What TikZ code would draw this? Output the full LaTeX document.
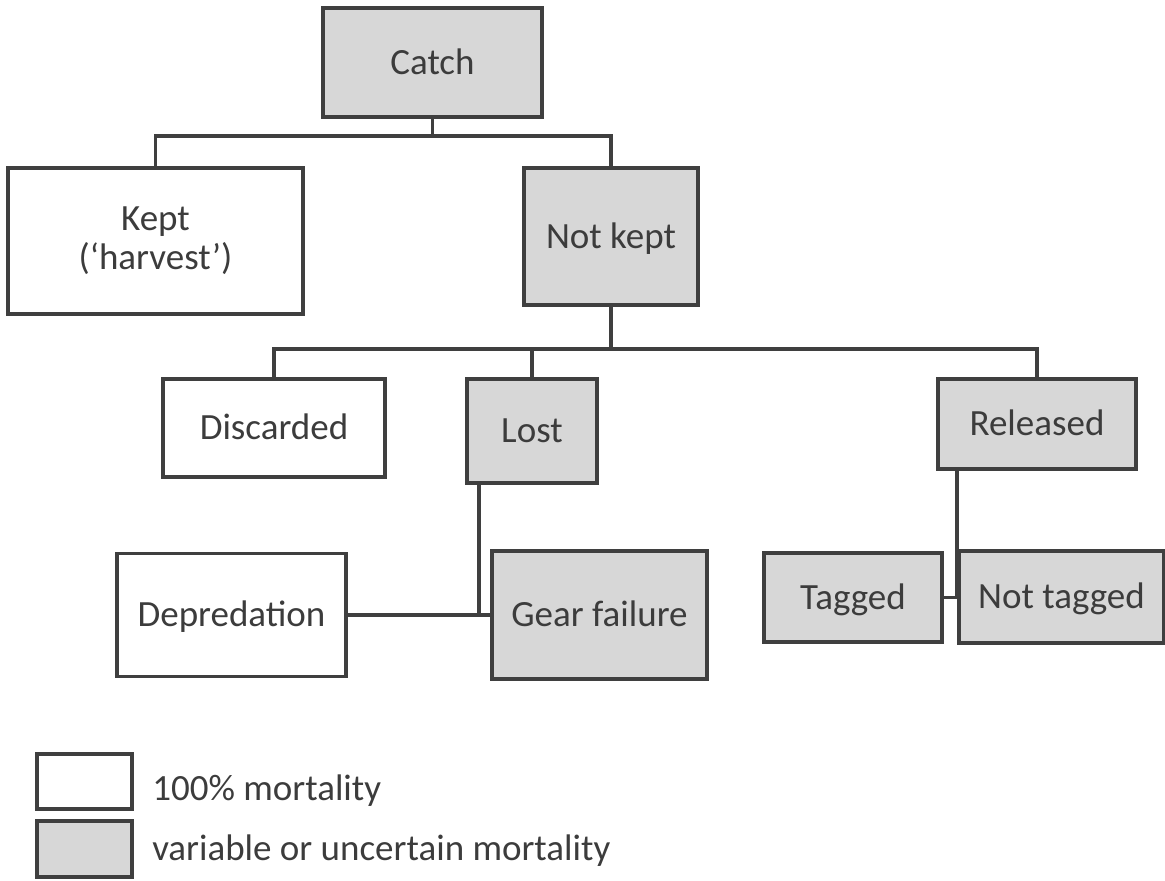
\documentclass[tikz,border=0pt]{standalone}
\usepackage{fontspec}
\setmainfont{Carlito}
\usetikzlibrary{calc}
\definecolor{edgec}{HTML}{3F3F3F}
\definecolor{boxgray}{HTML}{D7D7D7}
\definecolor{txtc}{HTML}{3C3C3C}
\begin{document}
\begin{tikzpicture}[x=0.75pt,y=-0.75pt,
  every node/.style={font=\fontsize{27.75}{29}\selectfont, text=txtc, inner sep=0pt},
  sz/.style 2 args={minimum width=#1*0.75pt, minimum height=#2*0.75pt},
  box/.style={draw=edgec, line width=2.6pt, rectangle, text height=26.2pt, text depth=8.3pt},
  wbox/.style={box, fill=white},
  gbox/.style={box, fill=boxgray},
  link/.style={draw=edgec, line width=2.7pt}]
\useasboundingbox (0,0) rectangle (1165,881);

% nodes
\node[gbox, sz={219}{109}] (catch) at (432.5,62.5) {Catch};
\node[wbox, sz={295}{146}, align=center, text height={}, text depth={}] (kept) at (155.5,241) {Kept\\(‘harvest’)};
\node[gbox, sz={174}{137}] (notkept) at (611,236.5) {Not kept};
\node[wbox, sz={222}{98}] (discarded) at (274,428) {Discarded};
\node[gbox, sz={130}{104}] (lost) at (532,431) {Lost};
\node[gbox, sz={198}{90}] (released) at (1037,424) {Released};
\node[wbox, sz={229}{123}] (depredation) at (231.5,615) {Depredation};
\node[gbox, sz={215}{128}] (gear) at (599.5,615) {Gear failure};
\node[gbox, sz={178}{89}] (tagged) at (853,597.5) {Tagged};
\node[gbox, sz={205}{92}] (nottagged) at (1061.5,597) {Not tagged};

% legend
\node[wbox, sz={95}{55}] (leg1) at (84.5,781.5) {};
\node[gbox, sz={95}{56}] (leg2) at (84.5,849) {};
\node[anchor=base west] (leg1txt) at (152,800) {100\% mortality};
\node[anchor=base west] (leg2txt) at (152,860) {variable or uncertain mortality};

% connectors
\coordinate (j1) at (432.5,136);
\draw[link] (catch.south) -- (j1);
\draw[link] (kept.north) |- (j1) -| (notkept.north);
\coordinate (j2) at (611,349);
\draw[link] (notkept.south) -- (j2);
\draw[link] (discarded.north) |- (j2) -| (released.north);
\draw[link] (lost.north) -- (lost.north |- j2);
\draw[link] ($(lost.south west)+(14,0)$) |- (gear.west);
\draw[link] (depredation.east) -- (gear.west);
\draw[link] (released.south -| nottagged.west) |- (tagged.east);
\end{tikzpicture}
\end{document}
